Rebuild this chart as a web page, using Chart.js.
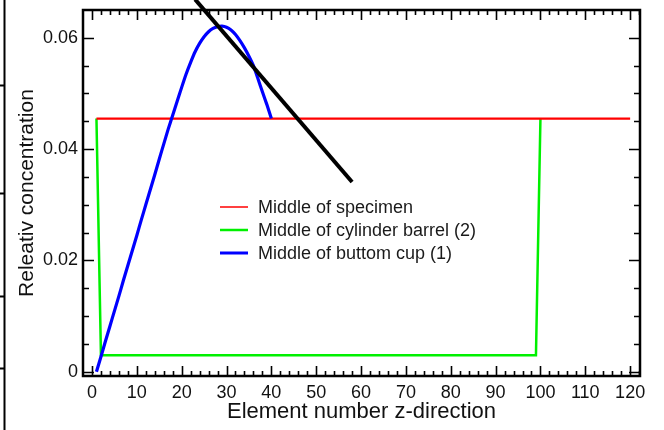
<!DOCTYPE html>
<html>
<head>
<meta charset="utf-8">
<script src="https://cdn.jsdelivr.net/npm/chart.js@4/dist/chart.umd.min.js"></script>
<style>
html,body{margin:0;padding:0;background:#fff;}
#wrap{width:664px;height:430px;position:relative;}
</style>
</head>
<body>
<div id="wrap"><canvas id="c" width="664" height="430"></canvas></div>
<script>
// ---- data ----
const seriesLabels = ["Middle of specimen", "Middle of cylinder barrel (2)", "Middle of buttom cup (1)"];
const seriesColors = ["#ff0000", "#00f000", "#0000ff"];

const specimenX = [1, 120];
const specimenY = [0.0455, 0.0455];

const barrelX = [1, 2, 99, 100];
const barrelY = [0.0455, 0.003, 0.003, 0.0455];

const cupX = [1, 2, 3, 4, 5, 6, 7, 8, 9, 10, 11, 12, 13, 14, 15, 16, 17, 18, 19, 20,
              21, 22, 23, 24, 25, 26, 27, 28, 29, 30, 31, 32, 33, 34, 35, 36, 37, 38, 39, 40];
const cupY = [0, 0.0027, 0.0055, 0.0082, 0.0109, 0.0136, 0.0164, 0.0191, 0.0218, 0.0245,
              0.0273, 0.0300, 0.0327, 0.0354, 0.0382, 0.0409, 0.0436, 0.0461, 0.0486, 0.0511,
              0.0535, 0.0556, 0.0575, 0.0590, 0.0602, 0.0611, 0.0617, 0.0620, 0.0621, 0.0619,
              0.0614, 0.0606, 0.0595, 0.0582, 0.0567, 0.0550, 0.0527, 0.0503, 0.0480, 0.0455];

const xTickValues = [0, 10, 20, 30, 40, 50, 60, 70, 80, 90, 100, 110, 120];
const xTickLabels = ["0", "10", "20", "30", "40", "50", "60", "70", "80", "90", "100", "110", "120"];
const yTickValues = [0, 0.02, 0.04, 0.06];
const yTickLabels = ["0", "0.02", "0.04", "0.06"];
const xMinorStep = 2;
const yMinorStep = 0.005;

// pointer line (annotation) in data coordinates
const pointerX = [23.0, 58.0];
const pointerY = [0.0669, 0.0341];

const xTitle = "Element number z-direction";
const yTitle = "Releativ concentration";

// ---- helpers ----
const FONT = "'Liberation Sans', Arial, Helvetica, sans-serif";
function pts(xs, ys) { return xs.map((x, i) => ({x: x, y: ys[i]})); }

const framePlugin = {
  id: 'frame',
  afterDatasetsDraw(chart) {
    const ctx = chart.ctx;
    const a = chart.chartArea;
    const xs = chart.scales.x, ys = chart.scales.y;
    ctx.save();
    // ticks (inward, all four sides)
    ctx.strokeStyle = '#000';
    ctx.lineWidth = 1.6;
    ctx.beginPath();
    for (let v = 0; v <= xs.max + 1e-9; v += xMinorStep) {
      const px = Math.round(xs.getPixelForValue(v)) + 0.5;
      const major = xTickValues.some(t => Math.abs(t - v) < 1e-9);
      const len = major ? 10 : 5;
      ctx.moveTo(px, a.bottom); ctx.lineTo(px, a.bottom - len);
      ctx.moveTo(px, a.top); ctx.lineTo(px, a.top + len);
    }
    for (let k = 0; k * yMinorStep <= ys.max - 1e-4; k++) {
      const v = k * yMinorStep;
      const py = Math.round(ys.getPixelForValue(v)) + 0.5;
      const major = yTickValues.some(t => Math.abs(t - v) < 1e-9);
      const len = major ? 11 : 6;
      ctx.moveTo(a.left, py); ctx.lineTo(a.left + len, py);
      ctx.moveTo(a.right, py); ctx.lineTo(a.right - len, py);
    }
    ctx.stroke();
    // frame
    ctx.lineWidth = 2.5;
    ctx.strokeRect(a.left, a.top, a.right - a.left, a.bottom - a.top);

    // legend
    const lx = 220, tx = 258, rows = [207, 230, 253], lw = [1.5, 2.5, 3];
    ctx.font = '18px ' + FONT;
    ctx.textBaseline = 'middle';
    ctx.textAlign = 'left';
    chart.data.datasets.forEach((ds, i) => {
      ctx.strokeStyle = ds.borderColor;
      ctx.lineWidth = lw[i];
      ctx.beginPath();
      ctx.moveTo(lx, rows[i]); ctx.lineTo(lx + 28, rows[i]);
      ctx.stroke();
      ctx.fillStyle = '#1a1a1a';
      ctx.fillText(ds.label, tx, rows[i] + 1);
    });

    // pointer annotation line
    ctx.strokeStyle = '#000';
    ctx.lineWidth = 4;
    ctx.lineCap = 'butt';
    ctx.beginPath();
    ctx.moveTo(xs.getPixelForValue(pointerX[0]), ys.getPixelForValue(pointerY[0]));
    ctx.lineTo(xs.getPixelForValue(pointerX[1]), ys.getPixelForValue(pointerY[1]));
    ctx.stroke();

    // fragment of neighbouring figure at the left edge
    ctx.lineWidth = 2;
    ctx.beginPath();
    ctx.moveTo(4.5, 0); ctx.lineTo(4.5, 430);
    [85, 193, 296, 368].forEach(y => { ctx.moveTo(0, y + 0.5); ctx.lineTo(5, y + 0.5); });
    ctx.stroke();
    ctx.restore();
  }
};

new Chart(document.getElementById('c'), {
  type: 'scatter',
  data: {
    datasets: [
      { label: seriesLabels[0], data: pts(specimenX, specimenY), borderColor: seriesColors[0],
        borderWidth: 2.2, showLine: true, pointRadius: 0, order: 2 },
      { label: seriesLabels[1], data: pts(barrelX, barrelY), borderColor: seriesColors[1],
        borderWidth: 2.5, showLine: true, pointRadius: 0, order: 3 },
      { label: seriesLabels[2], data: pts(cupX, cupY), borderColor: seriesColors[2],
        borderWidth: 3.2, showLine: true, pointRadius: 0, order: 1, tension: 0.2 }
    ]
  },
  options: {
    responsive: false,
    animation: false,
    devicePixelRatio: 1,
    layout: { padding: { top: 10, right: 24, left: 0, bottom: 0 } },
    plugins: { legend: { display: false }, tooltip: { enabled: false } },
    scales: {
      x: {
        type: 'linear', min: -2, max: 122.2,
        afterBuildTicks: s => { s.ticks = xTickValues.map(v => ({ value: v })); },
        afterFit: s => { s.height = 54; s.paddingLeft = 0; s.paddingRight = 0; },
        ticks: { callback: (v, i) => xTickLabels[i], autoSkip: false, maxRotation: 0,
                 padding: 6, color: '#111', font: { family: FONT, size: 18 } },
        grid: { display: false, drawTicks: false },
        border: { display: false },
        title: { display: true, text: xTitle, color: '#111',
                 font: { family: FONT, size: 22 }, padding: { top: 0, bottom: 5 } }
      },
      y: {
        type: 'linear', min: -0.00075, max: 0.065,
        afterBuildTicks: s => { s.ticks = yTickValues.map(v => ({ value: v })); },
        afterFit: s => { s.width = 83; s.paddingTop = 0; s.paddingBottom = 0; },
        ticks: { callback: (v, i) => yTickLabels[i], autoSkip: false,
                 padding: 5, color: '#111', font: { family: FONT, size: 18 } },
        grid: { display: false, drawTicks: false },
        border: { display: false },
        title: { display: true, text: yTitle, color: '#111',
                 font: { family: FONT, size: 21 }, padding: { top: 15, bottom: 0 } }
      }
    }
  },
  plugins: [framePlugin]
});
</script>
</body>
</html>
